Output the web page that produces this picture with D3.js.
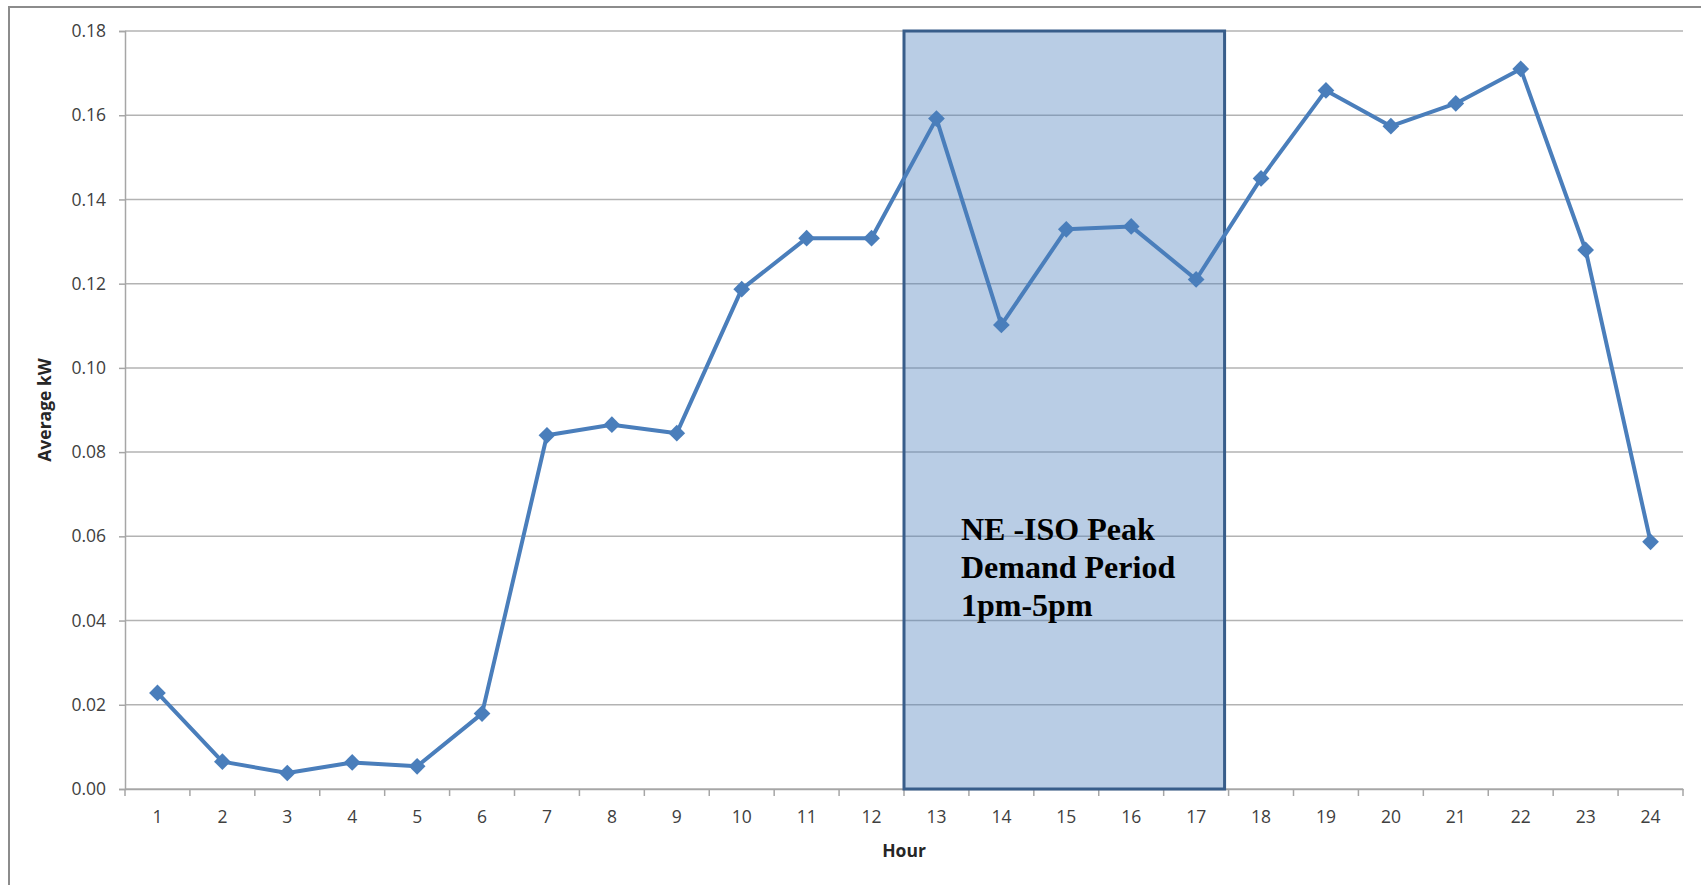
<!DOCTYPE html>
<html>
<head>
<meta charset="utf-8">
<script src="https://cdn.jsdelivr.net/npm/d3@7"></script>
<style>
  body { margin: 0; background: #fff; }
  svg { display: block; }
  .tick text { font-family: "Open Sans", "Liberation Sans", sans-serif; font-size: 17.5px; fill: #404040; }
</style>
</head>
<body>
<div id="chart"></div>
<script>
// hourly average demand
const hours = d3.range(1, 25).map(String);
const avgKw = [0.0228, 0.0065, 0.0038, 0.0063, 0.0054, 0.0179, 0.0840, 0.0865,
               0.0845, 0.1187, 0.1308, 0.1308, 0.1592, 0.1102, 0.1329, 0.1336,
               0.1210, 0.1450, 0.1659, 0.1574, 0.1628, 0.1710, 0.1280, 0.0587];
const yTicks = [0, 0.02, 0.04, 0.06, 0.08, 0.10, 0.12, 0.14, 0.16, 0.18];
const peakStart = "13";
const peakEnd = "17";
const peakLines = ["NE -ISO Peak", "Demand Period", "1pm-5pm"];

const W = 1701, H = 885;
const margin = { top: 31, right: 18, bottom: 96, left: 125 };
const width = W - margin.left - margin.right;
const height = H - margin.top - margin.bottom;

const svg = d3.select("#chart").append("svg")
    .attr("width", W)
    .attr("height", H);

// outer frame (only top and left edges visible in the crop)
svg.append("path")
    .attr("d", `M9,${H} V7 H${W}`)
    .attr("fill", "none")
    .attr("stroke", "#8c8c8c")
    .attr("stroke-width", 2);

const g = svg.append("g")
    .attr("transform", `translate(${margin.left},${margin.top})`);

const x = d3.scaleBand()
    .domain(hours)
    .range([0, width]);

const y = d3.scaleLinear()
    .domain([0, 0.18])
    .range([height, 0]);

// gridlines
g.append("g")
    .selectAll("line")
    .data(yTicks)
    .join("line")
    .attr("x1", 0)
    .attr("x2", width)
    .attr("y1", d => y(d))
    .attr("y2", d => y(d))
    .attr("stroke", "#b3b3b3")
    .attr("stroke-width", 1.5);

// y axis
const yAxis = g.append("g")
    .call(d3.axisLeft(y)
        .tickValues(yTicks)
        .tickFormat(d3.format(".2f"))
        .tickSize(6)
        .tickPadding(13));
yAxis.select(".domain").attr("stroke", "#a6a6a6").attr("stroke-width", 1.5);
yAxis.selectAll(".tick line").attr("stroke", "#a6a6a6").attr("stroke-width", 1.5);

// x axis: ticks sit on the category boundaries
const xAxis = g.append("g")
    .attr("transform", `translate(0,${height})`)
    .call(d3.axisBottom(x).tickSize(0).tickPadding(22));
xAxis.select(".domain").attr("stroke", "#a6a6a6").attr("stroke-width", 1.5);
xAxis.selectAll(".tick line").remove();
xAxis.append("g")
    .selectAll("line")
    .data(d3.range(hours.length + 1))
    .join("line")
    .attr("x1", i => i * x.step())
    .attr("x2", i => i * x.step())
    .attr("y1", 0)
    .attr("y2", 7)
    .attr("stroke", "#a6a6a6")
    .attr("stroke-width", 1.5);

// axis titles
g.append("text")
    .attr("x", width / 2)
    .attr("y", height + 68)
    .attr("text-anchor", "middle")
    .attr("font-family", "'Open Sans', 'Liberation Sans', sans-serif")
    .attr("font-weight", "bold")
    .attr("font-size", 17.5)
    .attr("fill", "#262626")
    .text("Hour");

g.append("text")
    .attr("transform", "rotate(-90)")
    .attr("x", -height / 2)
    .attr("y", -74)
    .attr("text-anchor", "middle")
    .attr("font-family", "'Open Sans', 'Liberation Sans', sans-serif")
    .attr("font-weight", "bold")
    .attr("font-size", 17.5)
    .attr("fill", "#262626")
    .text("Average kW");

// peak demand box
const boxX0 = x(peakStart);
const boxX1 = x(peakEnd) + x.bandwidth() - 4;
g.append("rect")
    .attr("x", boxX0)
    .attr("y", y(0.18))
    .attr("width", boxX1 - boxX0)
    .attr("height", y(0) - y(0.18))
    .attr("fill", "rgba(79,129,189,0.4)")
    .attr("stroke", "#385d8a")
    .attr("stroke-width", 3);

// series line
const line = d3.line()
    .x((d, i) => x(hours[i]) + x.bandwidth() / 2)
    .y(d => y(d));

g.append("path")
    .datum(avgKw)
    .attr("d", line)
    .attr("fill", "none")
    .attr("stroke", "#4a7ebb")
    .attr("stroke-width", 4)
    .attr("stroke-linejoin", "round");

g.append("g")
    .selectAll("path")
    .data(avgKw)
    .join("path")
    .attr("d", d3.symbol(d3.symbolSquare, 140))
    .attr("transform", (d, i) => `translate(${x(hours[i]) + x.bandwidth() / 2},${y(d)}) rotate(45)`)
    .attr("fill", "#4a7ebb");

// label inside the box
const label = g.append("text")
    .attr("x", boxX0 + 57)
    .attr("y", 509)
    .attr("font-family", "'Liberation Serif', 'Times New Roman', serif")
    .attr("font-weight", "bold")
    .attr("font-size", 32)
    .attr("fill", "#000");
label.selectAll("tspan")
    .data(peakLines)
    .join("tspan")
    .attr("x", boxX0 + 57)
    .attr("dy", (d, i) => i === 0 ? 0 : 38)
    .text(d => d);
</script>
</body>
</html>
